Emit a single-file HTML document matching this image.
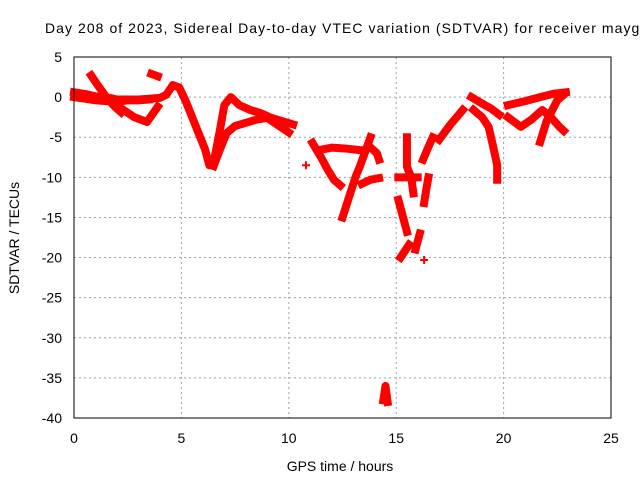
<!DOCTYPE html>
<html><head><meta charset="utf-8"><style>
body{margin:0;background:#fff}
svg{display:block;font-family:"Liberation Sans",sans-serif}
</style></head><body>
<svg id="chart" width="640" height="480" viewBox="0 0 640 480">
<rect width="640" height="480" fill="#fff"/>
<text x="45" y="33" font-size="14" fill="#000" textLength="600" lengthAdjust="spacing">Day 208 of 2023, Sidereal Day-to-day VTEC variation (SDTVAR) for receiver maygr</text>
<g id="grid"></g>
<g id="ticks"></g>
<g id="series"></g>
<rect x="74" y="57" width="537" height="361" fill="none" stroke="#000" stroke-width="1"/>
<text x="340" y="471" font-size="14" text-anchor="middle">GPS time / hours</text>
<text x="19" y="238" font-size="14" text-anchor="middle" transform="rotate(-90 19 238)">SDTVAR / TECUs</text>
</svg>
<script>
const xTicks=[0,5,10,15,20,25];
const yTicks=[5,0,-5,-10,-15,-20,-25,-30,-35,-40];
const trackMainUpper=[[0,0.6],[0.5,0.4],[1,0.1],[1.5,0],[2,-0.3],[2.5,-0.3],[3,-0.3],[3.5,-0.2],[4,-0.1],[4.3,0.3],[4.6,1.5],[4.9,1.2],[5.2,-0.5],[5.5,-2.5],[5.8,-4.5],[6.1,-6.5],[6.3,-8.5],[6.5,-8.2],[6.8,-4],[7,-1],[7.3,0],[7.7,-1],[8.2,-1.6],[8.7,-2],[9.2,-2.6],[9.7,-3],[10.2,-3.4]];
const trackBand=[[0,0],[0.5,-0.2],[1,-0.4],[1.5,-0.5],[2,-0.6],[2.5,-0.4],[3,-0.4],[3.5,-0.3]];
const trackMainLower=[[6.5,-8.6],[6.8,-6.5],[7.1,-4.5],[7.5,-3.6],[8,-3.2],[8.5,-2.8],[9,-2.6],[9.5,-3.5],[10,-4.4]];
const trackEarly1=[[0.8,2.7],[1.1,1.5],[1.5,0],[1.9,-1.2],[2.2,-1.9]];
const trackEarly2=[[1.7,-0.6],[2.3,-1.6],[2.8,-2.5],[3.4,-3.1],[3.9,-1.2]];
const trackEarly3=[[3.6,2.9],[3.9,2.6]];
const trackMid1=[[11.1,-5.7],[11.5,-7.5],[11.8,-9],[12.1,-10.3],[12.4,-11]];
const trackMid2=[[11.4,-6.6],[12,-6.3],[12.6,-6.4],[13.3,-6.6]];
const trackMid3=[[12.5,-15],[12.8,-12.5],[13.1,-10],[13.3,-8.7],[13.6,-6.5],[13.8,-5]];
const trackMid4=[[13.4,-10.8],[13.8,-10.3],[14.2,-10.1]];
const trackMid5=[[13.9,-6.5],[14.1,-7],[14.2,-7.8]];
const trackOutlier=[[10.8,-8.5],[16.3,-20.3]];
const trackDip=[[14.4,-37.8],[14.5,-36],[14.6,-38]];
const track15a=[[15.5,-5],[15.5,-7],[15.5,-8.7],[15.7,-10],[15.8,-12]];
const track15b=[[15.1,-12.8],[15.3,-14.8],[15.5,-16.8]];
const track15c=[[15.2,-20],[15.4,-19.2],[15.6,-18.4]];
const track15d=[[15.9,-19],[16.1,-17]];
const track15e=[[15.1,-10],[15.5,-10],[16,-10]];
const track16=[[16.5,-10],[16.4,-11.5],[16.3,-13.2]];
const track16b=[[16.25,-7.8],[16.5,-6.2],[16.7,-5]];
const trackRise=[[17,-5.3],[17.5,-3.5],[18.1,-1.6]];
const trackTop=[[18.5,0],[19,-0.8],[19.4,-1.4],[19.8,-2.2]];
const trackFall=[[18.6,-1.6],[19,-2.5],[19.3,-3.7],[19.5,-6],[19.7,-8.5],[19.7,-10.3]];
const trackLate1=[[20.2,-1],[21,-0.5],[21.7,0],[22.3,0.4],[22.9,0.6]];
const trackLate2=[[20.2,-2.5],[20.8,-3.7],[21.3,-2.8],[21.8,-1.6],[22.2,-2.5],[22.6,-3.7],[22.8,-4.2]];
const trackLate3=[[21.7,-5.6],[22,-3],[22.5,-0.4],[22.8,0.3]];
const tracks=[trackMainUpper,trackBand,trackMainLower,trackEarly1,trackEarly2,trackEarly3,trackMid1,trackMid2,trackMid3,trackMid4,trackMid5,trackDip,track15a,track15b,track15c,track15d,track15e,track16,track16b,trackRise,trackTop,trackFall,trackLate1,trackLate2,trackLate3];
const NS="http://www.w3.org/2000/svg";
const X0=74,X1=611,Y0=57,Y1=418;
function sx(v){return X0+(v-0)/(25-0)*(X1-X0);}
function sy(v){return Y0+(5-v)/(5-(-40))*(Y1-Y0);}
const grid=document.getElementById('grid'),ticks=document.getElementById('ticks'),series=document.getElementById('series');
xTicks.forEach(t=>{
  const x=sx(t);
  if(t>0&&t<25){const l=document.createElementNS(NS,'line');
  l.setAttribute('x1',x);l.setAttribute('x2',x);l.setAttribute('y1',Y0);l.setAttribute('y2',Y1);
  l.setAttribute('stroke','#a0a0a0');l.setAttribute('stroke-dasharray','2,3');
  
  
  grid.appendChild(l);}
  const tx=document.createElementNS(NS,'text');
  tx.setAttribute('x',x);tx.setAttribute('y',443);tx.setAttribute('font-size','14');tx.setAttribute('text-anchor','middle');
  tx.textContent=t;
  
  
  ticks.appendChild(tx);
});
yTicks.forEach(t=>{
  const y=sy(t);
  if(t<5&&t>-40){const l=document.createElementNS(NS,'line');
  l.setAttribute('x1',X0);l.setAttribute('x2',X1);l.setAttribute('y1',y);l.setAttribute('y2',y);
  l.setAttribute('stroke','#a0a0a0');l.setAttribute('stroke-dasharray','2,3');
  
  
  grid.appendChild(l);}
  const tx=document.createElementNS(NS,'text');
  tx.setAttribute('x',62);tx.setAttribute('y',y+5);tx.setAttribute('font-size','14');tx.setAttribute('text-anchor','end');
  tx.textContent=t;
  
  
  ticks.appendChild(tx);
});
tracks.forEach(tr=>{
  const p=document.createElementNS(NS,'polyline');
  p.setAttribute('points',tr.map(d=>sx(d[0])+','+sy(d[1])).join(' '));
  p.setAttribute('fill','none');p.setAttribute('stroke','#ff0000');p.setAttribute('stroke-width','8');
  p.setAttribute('stroke-linejoin','round');p.setAttribute('stroke-linecap','square');
  
  
  series.appendChild(p);
});
trackOutlier.forEach(d=>{
  const x=sx(d[0]),y=sy(d[1]);
  const p=document.createElementNS(NS,'path');
  p.setAttribute('d',`M${x-4},${y}H${x+4}M${x},${y-4}V${y+4}`);
  p.setAttribute('stroke','#ff0000');p.setAttribute('stroke-width','2');
  
  
  series.appendChild(p);
});
</script>
</body></html>
